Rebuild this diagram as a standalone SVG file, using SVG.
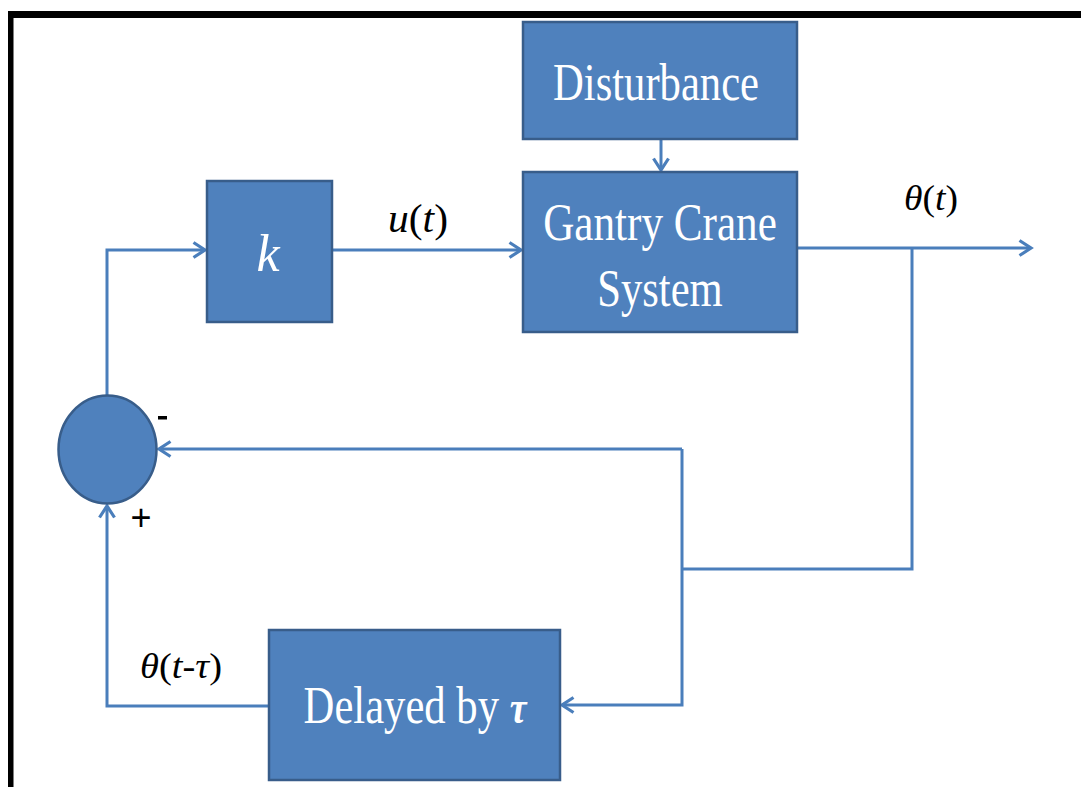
<svg xmlns="http://www.w3.org/2000/svg" width="1081" height="787" viewBox="0 0 1081 787">
  <style>
    .blk { fill: #4F81BD; stroke: #385D8A; stroke-width: 2.5; }
    .wire { fill: none; stroke: #4A7EBB; stroke-width: 3; stroke-linejoin: miter; }
    .lbl { font-family: "Liberation Serif", "Times New Roman", Times, serif; fill: #FFFFFF; font-size: 52px; text-anchor: middle; }
    .sig { font-family: "Liberation Serif", "Times New Roman", Times, serif; fill: #000000; }
    .sign { font-family: "Liberation Sans", Arial, sans-serif; fill: #000000; }
  </style>
  <defs>
    <marker id="head" markerUnits="userSpaceOnUse" markerWidth="20" markerHeight="20" refX="14" refY="10" orient="auto" overflow="visible">
      <path d="M2.5,2.5 L14,10 L2.5,17.5" fill="none" stroke="#4A7EBB" stroke-width="3.2" stroke-linejoin="miter"/>
    </marker>
  </defs>

  <rect width="1081" height="787" fill="#FFFFFF"/>
  <!-- frame -->
  <rect x="8" y="11" width="1073" height="7" fill="#000000"/>
  <rect x="8" y="11" width="5.5" height="776" fill="#000000"/>

  <!-- connectors -->
  <g id="connectors">
    <path class="wire" d="M107,395 V250 H205" marker-end="url(#head)"/>
    <path class="wire" d="M332,250 H521" marker-end="url(#head)"/>
    <path class="wire" d="M661,139 V170" marker-end="url(#head)"/>
    <path class="wire" d="M797,248 H1031" marker-end="url(#head)"/>
    <path class="wire" d="M912,248 V569 H682"/>
    <path class="wire" d="M682,449 V705 H562" marker-end="url(#head)"/>
    <path class="wire" d="M682,449 H159" marker-end="url(#head)"/>
    <path class="wire" d="M269,706 H107 V506" marker-end="url(#head)"/>
  </g>

  <!-- summing junction -->
  <g id="sum">
    <ellipse class="blk" cx="107.5" cy="449.5" rx="49" ry="54" stroke-width="2"/>
    <rect x="158" y="416" width="9" height="3.5" fill="#000000"/>
    <text class="sign" x="141" y="530" font-size="36" text-anchor="middle">+</text>
  </g>

  <!-- gain block -->
  <g id="gain">
    <rect class="blk" x="207" y="181" width="125" height="141"/>
    <text class="lbl" x="268" y="271" font-size="50" font-style="italic">k</text>
  </g>

  <!-- disturbance block -->
  <g id="disturbance">
    <rect class="blk" x="523" y="22" width="274" height="117"/>
    <text class="lbl" transform="translate(656,100) scale(0.82,1)">Disturbance</text>
  </g>

  <!-- plant block -->
  <g id="plant">
    <rect class="blk" x="523" y="172" width="274" height="160"/>
    <text class="lbl" transform="translate(660,240) scale(0.83,1)">Gantry Crane</text>
    <text class="lbl" transform="translate(660,306) scale(0.82,1)">System</text>
  </g>

  <!-- delay block -->
  <g id="delay">
    <rect class="blk" x="269" y="630" width="291" height="150"/>
    <text class="lbl" transform="translate(415,723) scale(0.82,1)">Delayed by <tspan font-style="italic" font-weight="bold" font-size="46">τ</tspan></text>
  </g>

  <!-- signal labels -->
  <g id="signals">
    <text class="sig" x="388" y="232" font-size="40" textLength="60" lengthAdjust="spacingAndGlyphs"><tspan font-style="italic">u</tspan>(<tspan font-style="italic">t</tspan>)</text>
    <text class="sig" x="904" y="210" font-size="36" textLength="54" lengthAdjust="spacingAndGlyphs"><tspan font-style="italic">θ</tspan>(<tspan font-style="italic">t</tspan>)</text>
    <text class="sig" x="140" y="678" font-size="36" textLength="82" lengthAdjust="spacingAndGlyphs"><tspan font-style="italic">θ</tspan>(<tspan font-style="italic">t</tspan>-<tspan font-style="italic">τ</tspan>)</text>
  </g>
</svg>
